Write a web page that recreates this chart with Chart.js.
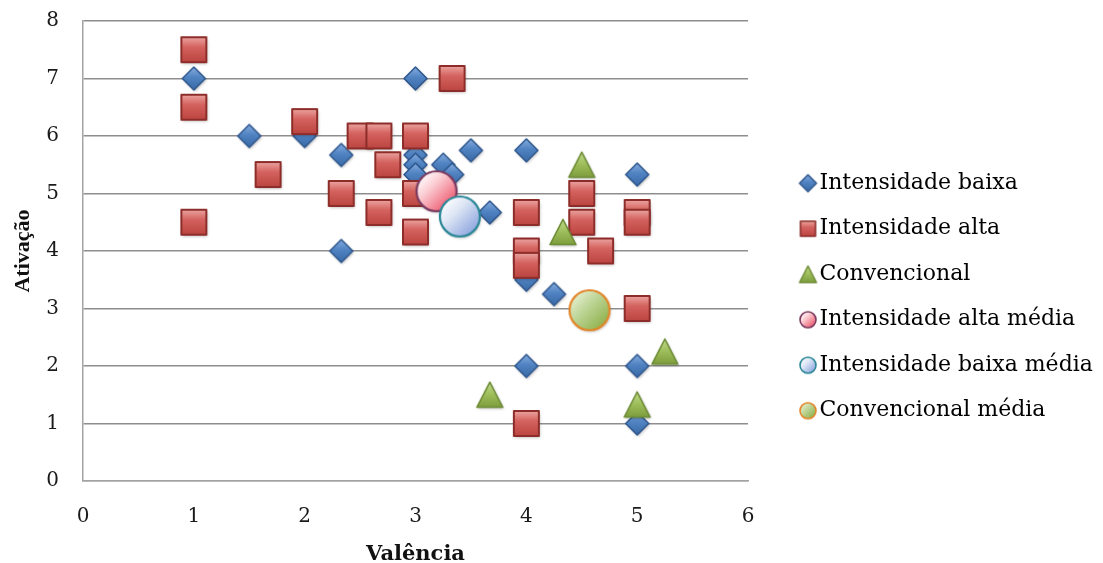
<!DOCTYPE html>
<html lang="pt">
<head>
<meta charset="utf-8">
<title>Valência e Ativação</title>
<script src="https://cdn.jsdelivr.net/npm/chart.js@4.4.1/dist/chart.umd.min.js"></script>
<style>
  html, body { margin: 0; padding: 0; background: #ffffff; }
  #wrap { width: 1103px; height: 563px; }
</style>
</head>
<body>
<div id="wrap"><canvas id="grafico" width="1103" height="563"></canvas></div>
<script>
// ---- Dados: valência (x) e ativação (y) ----
const seriesNames = [
  'Intensidade baixa',
  'Intensidade alta',
  'Convencional',
  'Intensidade alta média',
  'Intensidade baixa média',
  'Convencional média'
];

const baixaX = [1, 1.5, 2, 2.33, 2.33, 3, 3, 3, 3, 3.25, 3.33, 3.5, 3.67, 4, 4, 4.25, 4, 5, 5, 5];
const baixaY = [7, 6, 6, 5.67, 4, 7, 5.67, 5.5, 5.33, 5.5, 5.33, 5.75, 4.67, 5.75, 3.5, 3.25, 2, 5.33, 2, 1];

const altaX = [1, 1, 1, 1.67, 2, 2.33, 2.5, 2.67, 2.67, 2.75, 3, 3, 3, 3.33, 4, 4, 4, 4, 4.5, 4.5, 4.67, 5, 5, 5];
const altaY = [7.5, 6.5, 4.5, 5.33, 6.25, 5, 6, 6, 4.67, 5.5, 6, 5, 4.33, 7, 4.67, 4, 3.75, 1, 5, 4.5, 4, 4.67, 4.5, 3];

const convX = [4.5, 4.33, 3.67, 5.25, 5];
const convY = [5.5, 4.33, 1.5, 2.25, 1.33];

const altaMediaX = [3.19];
const altaMediaY = [5.04];
const baixaMediaX = [3.4];
const baixaMediaY = [4.6];
const convMediaX = [4.57];
const convMediaY = [2.97];

const xTicks = [0, 1, 2, 3, 4, 5, 6];
const yTicks = [0, 1, 2, 3, 4, 5, 6, 7, 8];

// ---- Marcadores desenhados em canvas com gradiente ----
function marker(kind, size, stops, stroke, lw, shadow) {
  const pad = 5;
  const dim = Math.round(size + 2 * pad);
  const c = document.createElement('canvas');
  c.width = dim; c.height = dim;
  const g = c.getContext('2d');
  const m = dim / 2, h = size / 2;
  g.beginPath();
  if (kind === 'diamond') {
    g.moveTo(m, m - h); g.lineTo(m + h, m); g.lineTo(m, m + h); g.lineTo(m - h, m); g.closePath();
  } else if (kind === 'square') {
    g.rect(m - h, m - h, size, size);
  } else if (kind === 'triangle') {
    const hh = h * 0.97;
    g.moveTo(m, m - hh); g.lineTo(m + h, m + hh); g.lineTo(m - h, m + hh); g.closePath();
  } else {
    g.arc(m, m, h, 0, Math.PI * 2);
  }
  const grad = kind === 'circle'
    ? g.createLinearGradient(m - h * 0.8, m - h * 0.8, m + h * 0.8, m + h * 0.8)
    : g.createLinearGradient(0, m - h, 0, m + h);
  stops.forEach(([o, col]) => grad.addColorStop(o, col));
  if (shadow) {
    g.shadowColor = 'rgba(0,0,0,0.28)';
    g.shadowBlur = 3;
    g.shadowOffsetX = 1;
    g.shadowOffsetY = 1.5;
  }
  g.fillStyle = grad;
  g.fill();
  g.shadowColor = 'transparent';
  g.lineWidth = lw;
  g.strokeStyle = stroke;
  g.lineJoin = 'round';
  g.stroke();
  return c;
}

const looks = [
  { kind: 'diamond', stops: [[0, '#86acdf'], [0.45, '#5083c2'], [1, '#3a69a6']], stroke: '#2d568c', lw: 1.5, size: 23, legend: 17 },
  { kind: 'square', stops: [[0, '#eba4a1'], [0.4, '#d4625e'], [1, '#bb4440']], stroke: '#8c2d2a', lw: 2, size: 25, legend: 15 },
  { kind: 'triangle', stops: [[0, '#c2dc8c'], [0.5, '#9dbd5a'], [1, '#7c9c3c']], stroke: '#6c8b35', lw: 1.5, size: 26, legend: 17 },
  { kind: 'circle', stops: [[0, '#ffffff'], [0.35, '#fbcdd3'], [1, '#ec4f66']], stroke: '#7b3a60', lw: 2.2, size: 40, legend: 16 },
  { kind: 'circle', stops: [[0, '#ffffff'], [0.35, '#dfe8f6'], [1, '#8aa2de']], stroke: '#2b8797', lw: 2.2, size: 40, legend: 16 },
  { kind: 'circle', stops: [[0, '#e9f2d4'], [0.4, '#bfd699'], [1, '#8db048']], stroke: '#e2862a', lw: 2.2, size: 40, legend: 16 }
];

const plotMarks = looks.map(l => marker(l.kind, l.size, l.stops, l.stroke, l.lw, true));
const legendMarks = looks.map(l => marker(l.kind, l.legend, l.stops, l.stroke, Math.min(l.lw, 1.6), false));

const pairs = (xs, ys) => xs.map((x, i) => ({ x, y: ys[i] }));
const seriesData = [
  pairs(baixaX, baixaY),
  pairs(altaX, altaY),
  pairs(convX, convY),
  pairs(altaMediaX, altaMediaY),
  pairs(baixaMediaX, baixaMediaY),
  pairs(convMediaX, convMediaY)
];

// ---- Fontes e medidas da legenda ----
const serif = '"DejaVu Serif", "Liberation Serif", serif';
const legendFontSize = 22;
const legendPad = 23.5;
const legendBox = 1;
const legendBoxWidth = 300;
const plotRight = 748;
const rightPadding = 1103 - plotRight - legendBoxWidth;

// Reposiciona a caixa da legenda depois do layout
const legendShift = {
  id: 'legendShift',
  afterLayout(chart, _args, opts) {
    const lg = chart.legend;
    if (!lg) return;
    lg.left += opts.dx;
    lg.right = chart.width;
    lg.width = lg.right - lg.left;
    lg.top += opts.dy;
    lg.bottom += opts.dy;
  }
};

const gridGray = '#8e8e8e';
const axisGray = '#a3a3a3';

new Chart(document.getElementById('grafico'), {
  type: 'scatter',
  data: {
    datasets: seriesData.map((data, i) => ({
      label: seriesNames[i],
      data,
      pointStyle: plotMarks[i],
      pointRadius: 1,
      hoverRadius: 0,
      pointBorderWidth: 0,
      clip: false,
      order: seriesData.length - i
    }))
  },
  options: {
    responsive: false,
    animation: false,
    events: [],
    layout: { padding: { top: 21, left: 0, right: rightPadding, bottom: 0 } },
    scales: {
      x: {
        type: 'linear',
        min: 0, max: 6,
        afterBuildTicks: s => { s.ticks = xTicks.map(v => ({ value: v })); },
        afterFit: s => { s.height = 82; },
        grid: { display: false, drawTicks: false },
        border: { display: true, color: axisGray, width: 1.5 },
        ticks: { padding: 24, color: '#1a1a1a', font: { family: serif, size: 20 } },
        title: {
          display: true, text: 'Valência', color: '#111111',
          font: { family: serif, size: 21, weight: 'bold', lineHeight: 0.8 },
          padding: { top: 0, bottom: 0 }
        }
      },
      y: {
        type: 'linear',
        min: 0, max: 8,
        afterBuildTicks: s => { s.ticks = yTicks.map(v => ({ value: v })); },
        afterFit: s => { s.width = 83; s.paddingTop = 12; s.paddingBottom = 12; },
        grid: {
          drawTicks: false,
          lineWidth: 1.5,
          color: c => (c.tick && c.tick.value === 0) ? axisGray : gridGray
        },
        border: { display: true, color: axisGray, width: 1.5 },
        ticks: { padding: 24, color: '#1a1a1a', font: { family: serif, size: 20 } },
        title: {
          display: true, text: 'Ativação', color: '#111111',
          font: { family: '"Liberation Serif", serif', size: 22, weight: 'bold', lineHeight: 1.2 },
          padding: { top: 10, bottom: 0 }
        }
      }
    },
    plugins: {
      tooltip: { enabled: false },
      legendShift: { dx: 36, dy: 5 },
      legend: {
        position: 'right',
        align: 'center',
        maxWidth: legendBoxWidth,
        labels: {
          usePointStyle: true,
          boxWidth: legendBox,
          padding: legendPad,
          color: '#111111',
          font: { family: serif, size: legendFontSize },
          generateLabels: chart => chart.data.datasets.map((ds, i) => ({
            text: ds.label,
            datasetIndex: i,
            pointStyle: legendMarks[i],
            fillStyle: 'transparent',
            strokeStyle: 'transparent',
            lineWidth: 0,
            hidden: false
          }))
        }
      }
    }
  },
  plugins: [legendShift]
});
</script>
</body>
</html>
